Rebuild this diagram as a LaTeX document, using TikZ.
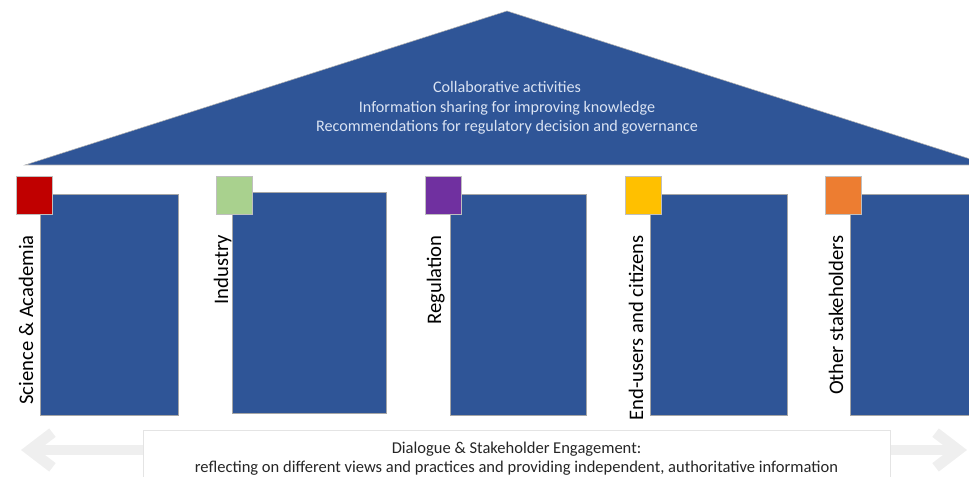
\documentclass[tikz,border=0pt]{standalone}
\usepackage{fontspec}
\setmainfont{Carlito}
\usepackage{tikz}
\usetikzlibrary{arrows.meta}
\usetikzlibrary{positioning}
\definecolor{roofblue}{HTML}{2F5597}
\definecolor{rooftext}{HTML}{DAE3F3}
\definecolor{sciencered}{HTML}{C00000}
\definecolor{industrygreen}{HTML}{A9D18E}
\definecolor{regpurple}{HTML}{7030A0}
\definecolor{useryellow}{HTML}{FFC000}
\definecolor{otherorange}{HTML}{ED7D31}
\definecolor{arrowgrey}{HTML}{EFEFEF}
\definecolor{boxgrey}{HTML}{E4E4E4}
\tikzset{pillar/.style={rectangle, fill=roofblue, draw=gray!70, line width=0.4pt, inner sep=0pt},
  tag/.style={rectangle, draw=gray!50, line width=0.6pt, inner sep=0pt, minimum width=27pt, minimum height=28.5pt},
  pillarlabel/.style={rotate=90, anchor=base east, inner sep=0pt, font=\fontsize{15.5}{18}\selectfont}}

\begin{document}
\begin{tikzpicture}[x=0.75pt,y=-0.75pt]
  \useasboundingbox (0,0) rectangle (969,477);

  % roof
  \fill[roofblue, draw=gray!60, line width=0.4pt] (25,165) -- (507,11) -- (989,165) -- cycle;
  \node[align=center, text=rooftext, font=\fontsize{12.1}{14.6}\selectfont] (roof) at (507,108) {
    Collaborative activities\\
    Information sharing for improving knowledge\\
    Recommendations for regulatory decision and governance};

  % pillars with colour tags and labels
  \foreach \n/\sx/\bx/\rl/\rr/\rt/\rb/\col/\txt in {
    1/16/33/40/178/194/415/sciencered/Science \& Academia,
    2/216/228/232/386/192/413/industrygreen/Industry,
    3/425/441/450/586/194/415/regpurple/Regulation,
    4/625/643/650/787/194/415/useryellow/End-users and citizens,
    5/825/843/850/990/194/415/otherorange/Other stakeholders%
  } {
    \node[pillar, anchor=north west, minimum width={(\rr-\rl)*0.75pt}, minimum height={(\rb-\rt)*0.75pt}] (p\n) at (\rl,\rt) {};
    \node[tag, fill=\col, anchor=north west] (t\n) at (\sx,176) {};
    \node[pillarlabel] (l\n) at (\bx,235) {\txt};
  }

  % dialogue arrow and box
  \coordinate (arrleft) at (21,450);
  \coordinate (arrright) at (967,450);
  \draw[arrowgrey, line width=8pt, {Straight Barb[length=17pt,width=26pt]}-{Straight Barb[length=17pt,width=26pt]}] (arrleft) -- (arrright);
  \node[rectangle, fill=white, draw=boxgrey, line width=0.8pt, anchor=north west, minimum width={747*0.75pt}, minimum height={60*0.75pt}] (dbox) at (143,430) {};
  \node[align=center, font=\fontsize{12.4}{14.3}\selectfont, text=black!85, anchor=north] (dtext) at (516.5,437) {
    Dialogue \& Stakeholder Engagement:\\
    reflecting on different views and practices and providing independent, authoritative information};
\end{tikzpicture}
\end{document}
